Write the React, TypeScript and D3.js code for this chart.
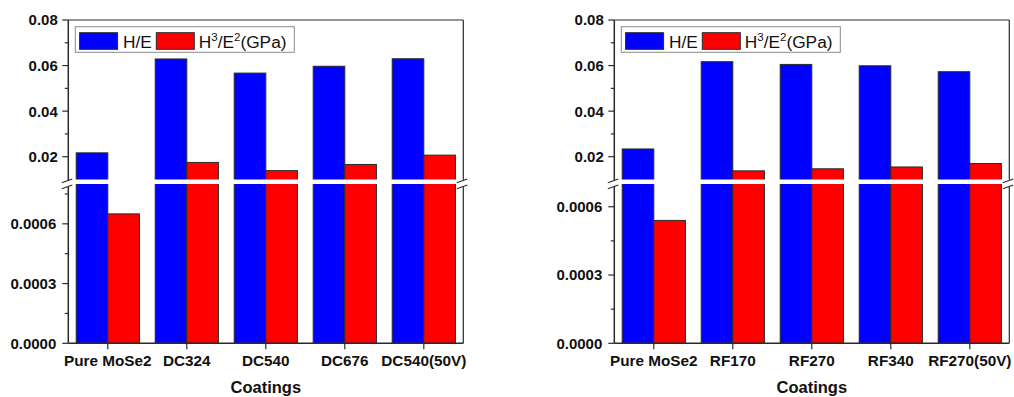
import React from "react";
import * as d3 from "d3";

const leftCategories = ["Pure MoSe2", "DC324", "DC540", "DC676", "DC540(50V)"];
const leftHE = [0.0217, 0.0629, 0.0567, 0.0597, 0.063];
const leftH3E2 = [0.00065, 0.0175, 0.0139, 0.0166, 0.0207];

const rightCategories = ["Pure MoSe2", "RF170", "RF270", "RF340", "RF270(50V)"];
const rightHE = [0.0234, 0.0617, 0.0605, 0.0599, 0.0573];
const rightH3E2 = [0.00054, 0.0138, 0.0147, 0.0155, 0.017];

const seriesNames = ["H/E", "H3/E2"];
const seriesColors = ["#0000ff", "#ff0000"];

const upperMajor = [0.02, 0.04, 0.06, 0.08];
const upperMinor = [0.03, 0.05, 0.07];
const upperLabels = ["0.02", "0.04", "0.06", "0.08"];
const lowerMajor = [0, 0.0003, 0.0006];
const lowerLabels = ["0.0000", "0.0003", "0.0006"];
const leftLowerMinor = [0.00015, 0.00045, 0.00075];
const rightLowerMinor = [0.00015, 0.00045];

const W = 1014;
const H = 397;
const TOP = 20;
const BOTTOM = 343.3;
const UPPER_BOT = 179.5;
const LOWER_TOP = 184;
const PLOT_W = 395;
const FONT = "Arial, 'Liberation Sans', Helvetica, sans-serif";

function Panel({ x0, categories, he, h3, lowerMax, lowerMinor }) {
  const x1 = x0 + PLOT_W;
  const xs = d3.scaleBand().domain(categories).range([x0, x1]).paddingInner(0.2).paddingOuter(0.1);
  const xi = d3.scaleBand().domain(seriesNames).range([0, xs.bandwidth()]);
  const yUp = d3.scaleLinear().domain([0.01, 0.08]).range([UPPER_BOT, TOP]);
  const yLo = d3.scaleLinear().domain([0, lowerMax]).range([BOTTOM, LOWER_TOP]);
  const yOf = (v) => (v >= 0.01 ? yUp(v) : yLo(v));
  const series = [he, h3];
  const stroke = "#2a2a2a";

  const breakMark = (bx, key) => (
    <g key={key}>
      <polygon points={`${bx - 6.5},${182.8} ${bx + 4},${179} ${bx + 4},${185} ${bx - 6.5},${188.8}`} fill="#fff" />
      <line x1={bx - 6.5} y1={182.8} x2={bx + 4} y2={179} stroke={stroke} strokeWidth={1.1} />
      <line x1={bx - 6.5} y1={188.8} x2={bx + 4} y2={185} stroke={stroke} strokeWidth={1.1} />
    </g>
  );

  return (
    <g>
      <line x1={x0} y1={TOP} x2={x1} y2={TOP} stroke={stroke} strokeWidth={1.2} />
      <line x1={x1} y1={TOP} x2={x1} y2={BOTTOM} stroke={stroke} strokeWidth={1.2} />
      {categories.map((c, i) => (
        <g key={c}>
          {series.map((s, j) => {
            const bx = xs(c) + xi(seriesNames[j]);
            const top = yOf(s[i]);
            return (
              <rect
                key={j}
                x={bx}
                y={top}
                width={xi.bandwidth()}
                height={BOTTOM - top}
                fill={seriesColors[j]}
                stroke={stroke}
                strokeWidth={1}
              />
            );
          })}
        </g>
      ))}
      <rect x={x0} y={UPPER_BOT} width={PLOT_W} height={LOWER_TOP - UPPER_BOT} fill="#fff" />
      <line x1={x0} y1={TOP} x2={x0} y2={BOTTOM} stroke={stroke} strokeWidth={1.5} />
      <line x1={x0} y1={BOTTOM} x2={x1} y2={BOTTOM} stroke={stroke} strokeWidth={1.5} />
      {breakMark(x0, "bl")}
      {breakMark(x1, "br")}
      {upperMajor.map((v, i) => (
        <g key={"um" + i}>
          <line x1={x0 - 6} x2={x0} y1={yUp(v)} y2={yUp(v)} stroke={stroke} strokeWidth={1.2} />
          <text x={x0 - 10.5} y={yUp(v)} dy="0.36em" textAnchor="end" fontSize={15} fontWeight="bold" fontFamily={FONT} fill="#111">
            {upperLabels[i]}
          </text>
        </g>
      ))}
      {upperMinor.map((v, i) => (
        <line key={"un" + i} x1={x0 - 3.5} x2={x0} y1={yUp(v)} y2={yUp(v)} stroke={stroke} strokeWidth={1.2} />
      ))}
      {lowerMajor.map((v, i) => (
        <g key={"lm" + i}>
          <line x1={x0 - 6} x2={x0} y1={yLo(v)} y2={yLo(v)} stroke={stroke} strokeWidth={1.2} />
          <text x={x0 - 12} y={yLo(v)} dy="0.36em" textAnchor="end" fontSize={15} fontWeight="bold" fontFamily={FONT} fill="#111">
            {lowerLabels[i]}
          </text>
        </g>
      ))}
      {lowerMinor.map((v, i) => (
        <line key={"ln" + i} x1={x0 - 3.5} x2={x0} y1={yLo(v)} y2={yLo(v)} stroke={stroke} strokeWidth={1.2} />
      ))}
      {categories.map((c) => {
        const cx = xs(c) + xs.bandwidth() / 2;
        return (
          <g key={"xt" + c}>
            <line x1={cx} x2={cx} y1={BOTTOM} y2={BOTTOM + 6} stroke={stroke} strokeWidth={1.2} />
            <text x={cx} y={366} textAnchor="middle" fontSize={15.3} fontWeight="bold" fontFamily={FONT} fill="#111">
              {c}
            </text>
          </g>
        );
      })}
      <text x={(x0 + x1) / 2} y={393} textAnchor="middle" fontSize={16.5} fontWeight="bold" fontFamily={FONT} fill="#111">
        Coatings
      </text>
      <g transform={`translate(${x0 + 7},26.7)`}>
        <rect x={0} y={0} width={219} height={25.6} fill="#fff" stroke="#8a8a8a" strokeWidth={1} />
        <rect x={4.3} y={6} width={38} height={16.6} fill={seriesColors[0]} stroke={stroke} strokeWidth={1} />
        <text x={47.7} y={21.3} fontSize={17.3} fontFamily={FONT} fill="#111">H/E</text>
        <rect x={81} y={6} width={38} height={16.6} fill={seriesColors[1]} stroke={stroke} strokeWidth={1} />
        <text x={123.5} y={21.3} fontSize={17.3} fontFamily={FONT} fill="#111">
          H<tspan fontSize={11.5} dy={-7}>3</tspan>
          <tspan dy={7}>/E</tspan>
          <tspan fontSize={11.5} dy={-7}>2</tspan>
          <tspan dy={7}>(GPa)</tspan>
        </text>
      </g>
    </g>
  );
}

export default function App() {
  return (
    <svg width={W} height={H} style={{ position: "absolute", left: 0, top: 0, background: "#fff" }}>
      <rect x={0} y={0} width={W} height={H} fill="#fff" />
      <Panel x0={68.3} categories={leftCategories} he={leftHE} h3={leftH3E2} lowerMax={0.0008} lowerMinor={leftLowerMinor} />
      <Panel x0={614.3} categories={rightCategories} he={rightHE} h3={rightH3E2} lowerMax={0.0007} lowerMinor={rightLowerMinor} />
    </svg>
  );
}
